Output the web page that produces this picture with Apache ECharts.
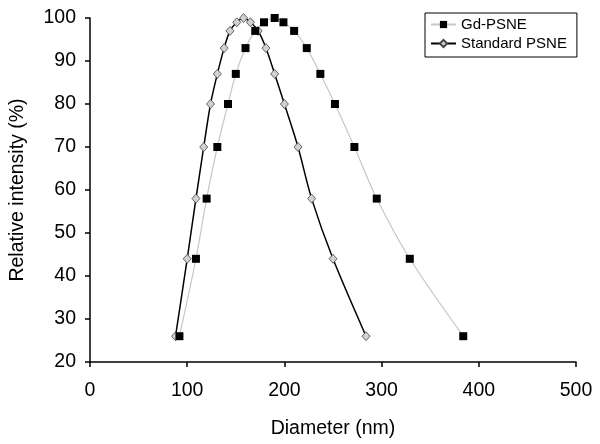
<!DOCTYPE html>
<html>
<head>
<meta charset="utf-8">
<script src="https://cdn.jsdelivr.net/npm/echarts@6/dist/echarts.min.js"></script>
<style>
  html, body { margin: 0; padding: 0; background: #fff; }
  #chart { width: 600px; height: 444px; }
</style>
</head>
<body>
<div id="chart"></div>
<script>
// Gd-PSNE (squares)
var gdDiameter = [92, 109, 120, 131, 142, 150, 160, 170, 179, 190, 199, 210, 223, 237, 252, 272, 295, 329, 384]
var gdIntensity = [26, 44, 58, 70, 80, 87, 93, 97, 99, 100, 99, 97, 93, 87, 80, 70, 58, 44, 26]
// Standard PSNE (diamonds)
var stdDiameter = [88, 100, 109, 117, 124, 131, 138, 144, 151, 158, 165, 173, 181, 190, 200, 214, 228, 250, 284]
var stdIntensity = [26, 44, 58, 70, 80, 87, 93, 97, 99, 100, 99, 97, 93, 87, 80, 70, 58, 44, 26]

function pairs(xs, ys) {
  return xs.map(function (x, i) { return [x, ys[i]] })
}

var chart = echarts.init(document.getElementById('chart'))
var font = 'Liberation Sans, Arial, Helvetica, sans-serif'

var option = {
  animation: false,
  backgroundColor: '#fff',
  textStyle: { fontFamily: font },
  grid: {
    left: 87,
    right: 24,
    top: 18,
    bottom: 79
  },
  legend: {
    left: 425,
    top: 13,
    orient: 'vertical',
    borderColor: '#000',
    borderWidth: 1,
    padding: [4, 10, 6, 5],
    itemGap: 4,
    itemWidth: 25,
    itemHeight: 9,
    textStyle: { fontSize: 15, lineHeight: 15, color: '#000', fontFamily: font },
    data: ['Gd-PSNE', 'Standard PSNE']
  },
  xAxis: {
    type: 'value',
    min: 0,
    max: 500,
    interval: 100,
    name: 'Diameter (nm)',
    nameLocation: 'middle',
    nameGap: 57,
    nameTextStyle: { fontSize: 19.5, color: '#000', fontFamily: font },
    axisLine: { lineStyle: { color: '#000', width: 1.5 } },
    axisTick: { show: true, length: 5, lineStyle: { color: '#000', width: 1.5 } },
    axisLabel: { fontSize: 19.5, color: '#000', margin: 19, fontFamily: font },
    splitLine: { show: false }
  },
  yAxis: {
    type: 'value',
    min: 20,
    max: 100,
    interval: 10,
    name: 'Relative intensity (%)',
    nameLocation: 'middle',
    nameGap: 62,
    nameTextStyle: { fontSize: 19.5, color: '#000', fontFamily: font },
    axisLine: { show: true, lineStyle: { color: '#000', width: 1.5 } },
    axisTick: { show: true, length: 5, lineStyle: { color: '#000', width: 1.5 } },
    axisLabel: { fontSize: 19.5, color: '#000', margin: 14, fontFamily: font },
    splitLine: { show: false }
  },
  series: [
    {
      name: 'Gd-PSNE',
      type: 'line',
      data: pairs(gdDiameter, gdIntensity),
      smooth: 0.3,
      symbol: 'rect',
      symbolSize: 8,
      z: 3,
      lineStyle: { color: '#c6c6c6', width: 1.2 },
      itemStyle: { color: '#000', borderWidth: 0 }
    },
    {
      name: 'Standard PSNE',
      type: 'line',
      data: pairs(stdDiameter, stdIntensity),
      smooth: 0.3,
      symbol: 'diamond',
      symbolSize: [8, 9],
      z: 2,
      lineStyle: { color: '#000', width: 1.5 },
      itemStyle: { color: '#d2d2d2', borderColor: '#444', borderWidth: 0.8 }
    }
  ]
}

option && chart.setOption(option)
</script>
</body>
</html>
